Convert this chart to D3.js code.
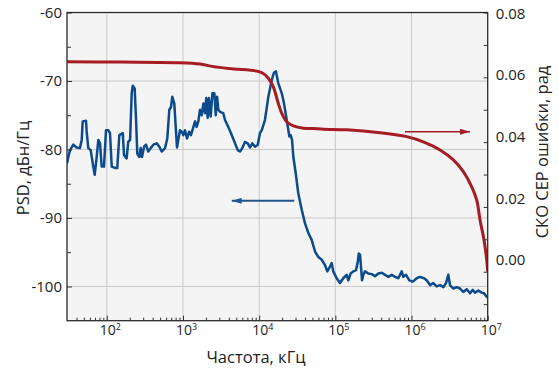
<!DOCTYPE html>
<html>
<head>
<meta charset="utf-8">
<script src="https://cdn.jsdelivr.net/npm/d3@7"></script>
<style>
  body { margin: 0; background: #fff; }
  text { font-family: "Open Sans", sans-serif; fill: #222; }
</style>
</head>
<body>
<div id="chart"></div>
<script>
// спектр PSD: частота, кГц / уровень, дБн/Гц
const psdFreq = [30, 31.2, 32.9, 36.3, 40.2, 44.4, 46.8, 48.2, 53.3, 54.4,
  57.1, 61.4, 66.4, 69.3, 73.6, 77.3, 81.4, 85.6, 91.8, 97.5,
  105, 110, 116, 128, 137, 146, 162, 168, 182, 191,
  202, 212, 219, 232, 242, 251, 267, 278, 290, 308,
  327, 350, 377, 408, 452, 489, 525, 580, 622, 661,
  696, 724, 769, 802, 834, 868, 913, 961, 1010, 1060,
  1130, 1200, 1270, 1370, 1440, 1510, 1590, 1670, 1760, 1850,
  1950, 2020, 2110, 2190, 2310, 2430, 2580, 2690, 2800, 2910,
  3060, 3380, 3560, 3930, 4360, 4820, 5230, 5600, 6000, 6510,
  7070, 7580, 8120, 8820, 9570, 10250, 10800, 11900, 13200, 14600,
  15600, 16600, 17800, 19800, 21200, 23000, 24900, 25900, 27000, 28100,
  30200, 32600, 36200, 40000, 44200, 48900, 54100, 59800, 66200, 73200,
  78400, 83300, 89600, 94000, 104000, 115000, 127000, 141000, 148000, 159000,
  172000, 187000, 197000, 203000, 211000, 217000, 224000, 233000, 245000, 271000,
  300000, 332000, 366000, 406000, 449000, 496000, 550000, 607000, 671000, 744000,
  780000, 847000, 936000, 1.04e6, 1.17e6, 1.29e6, 1.46e6, 1.58e6, 1.75e6, 1.93e6,
  2.14e6, 2.37e6, 2.62e6, 2.84e6, 3.04e6, 3.20e6, 3.54e6, 3.92e6, 4.33e6, 4.79e6,
  5.31e6, 5.86e6, 6.36e6, 6.82e6, 7.53e6, 8.35e6, 8.95e6, 9.71e6, 1e7];
const psdLevel = [-82.0, -81.1, -80.1, -79.3, -79.7, -79.8, -78.6, -75.9, -75.8, -77.4,
  -79.8, -80.1, -82.5, -83.7, -81.1, -78.6, -79.1, -82.5, -82.5, -77.2,
  -77.2, -77.6, -82.5, -82.7, -82.7, -77.9, -77.6, -80.8, -81.3, -78.9,
  -78.6, -71.8, -70.7, -71.1, -75.7, -80.6, -81.1, -79.8, -81.1, -79.6,
  -79.3, -80.3, -79.8, -79.3, -79.1, -79.6, -80.3, -79.8, -78.4, -74.2,
  -73.8, -72.3, -73.3, -76.7, -79.7, -78.6, -77.2, -77.4, -77.9, -77.2,
  -78.4, -77.4, -77.9, -76.7, -75.9, -76.7, -75.9, -74.2, -75.0, -73.3,
  -74.7, -72.5, -75.4, -72.5, -75.2, -71.8, -71.8, -75.0, -72.3, -74.2,
  -74.5, -74.7, -75.7, -76.7, -77.9, -79.1, -80.1, -80.3, -79.8, -78.9,
  -79.1, -79.7, -79.1, -79.6, -79.3, -77.6, -77.2, -75.7, -72.3, -69.9,
  -68.8, -68.6, -70.3, -71.8, -73.3, -75.7, -78.1, -77.9, -78.6, -81.1,
  -83.5, -86.4, -88.8, -90.8, -92.2, -93.2, -94.9, -95.7, -96.1, -96.9,
  -97.8, -97.3, -96.6, -97.8, -98.8, -99.5, -98.8, -98.3, -99.1, -98.1,
  -97.8, -97.6, -96.4, -95.2, -95.4, -97.1, -99.1, -98.3, -97.8, -98.1,
  -98.2, -98.5, -98.1, -98.0, -98.3, -98.6, -98.3, -98.6, -98.8, -97.8,
  -98.6, -98.3, -99.1, -99.3, -98.8, -98.6, -98.8, -99.1, -99.8, -99.5,
  -100.0, -99.8, -100.1, -99.5, -98.3, -99.8, -100.3, -100.1, -100.3, -100.8,
  -100.4, -101.0, -100.5, -100.9, -100.6, -100.9, -101.0, -101.5, -101.6];

// СКО CEP ошибки: частота, кГц / рад
const rmsFreq = [30, 149, 913, 1670, 2500, 4580, 9280, 11300, 13200, 15300,
  17800, 19800, 23000, 28100, 38000, 51400, 69500, 141000, 386000, 865000,
  1.43e6, 2.37e6, 3.54e6, 4.79e6, 6.17e6, 7.18e6, 7.93e6, 8.95e6, 9.71e6, 1e7];
const rmsValue = [0.0648, 0.0647, 0.0645, 0.0641, 0.0633, 0.0626, 0.0619, 0.0612, 0.0597, 0.0571,
  0.0520, 0.0489, 0.0463, 0.0450, 0.0443, 0.0442, 0.0440, 0.0438, 0.0429, 0.0417,
  0.0401, 0.0376, 0.0345, 0.0309, 0.0262, 0.0221, 0.0160, 0.0098, 0.0036, 0.0000];

const xMajor = [1e2, 1e3, 1e4, 1e5, 1e6, 1e7];
const leftMajor = [-60, -70, -80, -90, -100];
const leftMinor = [-65, -75, -85, -95];
const rightLabels = [0, 0.02, 0.04, 0.06, 0.08];
const rightTicks = [-0.01, 0, 0.01, 0.02, 0.03, 0.04, 0.05, 0.06, 0.07, 0.08];

// стрелки-указатели осей
const psdArrow = { from: 28900, to: 4360, level: -87.5 };
const rmsArrow = { from: 821000, to: 5.86e6, level: 0.0432 };

const width = 559, height = 372;
const margin = { top: 12.5, right: 71.3, bottom: 51.3, left: 67 };
const blue = "#0b4a8b", red = "#a51d23";

const x = d3.scaleLog().domain([30, 1e7]).range([margin.left, width - margin.right]);
const y = d3.scaleLinear().domain([-105, -60]).range([height - margin.bottom, margin.top]);
const yR = d3.scaleLinear().domain([-0.0151, 0.08]).range([height - margin.bottom, margin.top]);
// подписи правой оси в оригинале стоят чуть выше делений
const yRLabel = d3.scaleLinear().domain([0, 0.08]).range([260, 13.3]);

const svg = d3.select("#chart").append("svg")
  .attr("width", width)
  .attr("height", height);

svg.append("defs").append("clipPath").attr("id", "clip")
  .append("rect")
  .attr("x", margin.left).attr("y", margin.top)
  .attr("width", width - margin.left - margin.right)
  .attr("height", height - margin.top - margin.bottom);

function marker(id, color, w, h) {
  svg.select("defs").append("marker")
    .attr("id", id)
    .attr("viewBox", `0 0 ${w} ${h}`)
    .attr("refX", w).attr("refY", h / 2)
    .attr("markerWidth", w).attr("markerHeight", h)
    .attr("markerUnits", "userSpaceOnUse")
    .attr("orient", "auto")
    .append("path")
    .attr("d", `M0,0L${w},${h / 2}L0,${h}Z`)
    .attr("fill", color);
}
marker("headBlue", "#23568c", 10, 6);
marker("headRed", red, 10, 6);

// фон
svg.append("rect")
  .attr("x", margin.left).attr("y", margin.top)
  .attr("width", width - margin.left - margin.right)
  .attr("height", height - margin.top - margin.bottom)
  .attr("fill", "#f4f4f4");

// сетка
const grid = svg.append("g").attr("stroke", "#c8c8c8").attr("stroke-width", 1);
grid.selectAll("line.v")
  .data(xMajor.slice(0, -1))
  .enter().append("line")
  .attr("x1", d => x(d)).attr("x2", d => x(d))
  .attr("y1", margin.top).attr("y2", height - margin.bottom);
grid.selectAll("line.h")
  .data(leftMajor.slice(1))
  .enter().append("line")
  .attr("x1", margin.left).attr("x2", width - margin.right)
  .attr("y1", d => y(d)).attr("y2", d => y(d));

// линии
const psdLine = d3.line()
  .x((d, i) => x(psdFreq[i]))
  .y(d => y(d));

const rmsLine = d3.line()
  .x((d, i) => x(rmsFreq[i]))
  .y(d => yR(d))
  .curve(d3.curveCatmullRom.alpha(0.5));

const plot = svg.append("g").attr("clip-path", "url(#clip)");

plot.append("path")
  .datum(psdLevel)
  .attr("d", psdLine)
  .attr("fill", "none")
  .attr("stroke", blue)
  .attr("stroke-width", 2.5)
  .attr("stroke-linejoin", "round");

plot.append("path")
  .datum(rmsValue)
  .attr("d", rmsLine)
  .attr("fill", "none")
  .attr("stroke", red)
  .attr("stroke-width", 3);

// стрелки
svg.append("line")
  .attr("x1", x(psdArrow.from)).attr("x2", x(psdArrow.to))
  .attr("y1", y(psdArrow.level)).attr("y2", y(psdArrow.level))
  .attr("stroke", "#23568c").attr("stroke-width", 2)
  .attr("marker-end", "url(#headBlue)");

svg.append("line")
  .attr("x1", x(rmsArrow.from)).attr("x2", x(rmsArrow.to))
  .attr("y1", yR(rmsArrow.level)).attr("y2", yR(rmsArrow.level))
  .attr("stroke", red).attr("stroke-width", 1.6)
  .attr("marker-end", "url(#headRed)");

// оси
const bottom = height - margin.bottom;

const xMinor = [];
for (let e = 1; e < 7; e++) {
  for (let k = 2; k < 10; k++) {
    const v = k * Math.pow(10, e);
    if (v > 30 && v < 1e7) xMinor.push(v);
  }
}

svg.append("g")
  .attr("transform", `translate(0,${bottom})`)
  .call(d3.axisBottom(x).tickValues(xMinor).tickSize(-3).tickFormat(""))
  .call(g => g.select(".domain").remove())
  .call(g => g.selectAll("line").attr("stroke", "#333"));

const xAxis = svg.append("g")
  .attr("transform", `translate(0,${bottom})`)
  .call(d3.axisBottom(x).tickValues(xMajor).tickSize(-5).tickPadding(4).tickFormat(""))
  .call(g => g.select(".domain").remove())
  .call(g => g.selectAll("line").attr("stroke", "#333"));

xAxis.selectAll(".tick text")
  .attr("font-size", 14)
  .attr("text-anchor", "start")
  .attr("x", -7.5)
  .each(function (d) {
    const t = d3.select(this);
    t.append("tspan").text("10");
    t.append("tspan")
      .attr("font-size", 9)
      .attr("dy", "-0.5em")
      .text(Math.round(Math.log10(d)));
  });

svg.append("g")
  .attr("transform", `translate(${margin.left},0)`)
  .call(d3.axisLeft(y).tickValues(leftMinor).tickSize(-4).tickFormat(""))
  .call(g => g.select(".domain").remove())
  .call(g => g.selectAll("line").attr("stroke", "#333"));

svg.append("g")
  .attr("transform", `translate(${margin.left},0)`)
  .call(d3.axisLeft(y).tickValues(leftMajor).tickSize(-5).tickPadding(5).tickFormat(d => String(d)))
  .call(g => g.select(".domain").remove())
  .call(g => g.selectAll("line").attr("stroke", "#333"))
  .call(g => g.selectAll("text").attr("font-size", 15).attr("fill", "#222"));

svg.append("g")
  .attr("transform", `translate(${width - margin.right},0)`)
  .call(d3.axisRight(yR).tickValues(rightTicks).tickSize(-4).tickFormat(""))
  .call(g => g.select(".domain").remove())
  .call(g => g.selectAll("line").attr("stroke", "#333"));

svg.append("g")
  .attr("transform", `translate(${width - margin.right},0)`)
  .call(d3.axisRight(yRLabel).tickValues(rightLabels).tickSize(0).tickPadding(8).tickFormat(d3.format(".2f")))
  .call(g => g.select(".domain").remove())
  .call(g => g.selectAll("line").remove())
  .call(g => g.selectAll("text").attr("font-size", 15).attr("fill", "#222"));

// рамка
svg.append("rect")
  .attr("x", margin.left).attr("y", margin.top)
  .attr("width", width - margin.left - margin.right)
  .attr("height", height - margin.top - margin.bottom)
  .attr("fill", "none")
  .attr("stroke", "#2a2a2a")
  .attr("stroke-width", 1.3);

// подписи осей
svg.append("text")
  .attr("x", 256)
  .attr("y", 363)
  .attr("text-anchor", "middle")
  .attr("font-size", 16.5)
  .text("Частота, кГц");

svg.append("text")
  .attr("transform", "translate(29,168) rotate(-90)")
  .attr("text-anchor", "middle")
  .attr("font-size", 16.5)
  .text("PSD, дБн/Гц");

svg.append("text")
  .attr("transform", "translate(548,152) rotate(-90)")
  .attr("text-anchor", "middle")
  .attr("font-size", 16.5)
  .text("СКО CEP ошибки, рад");
</script>
</body>
</html>
